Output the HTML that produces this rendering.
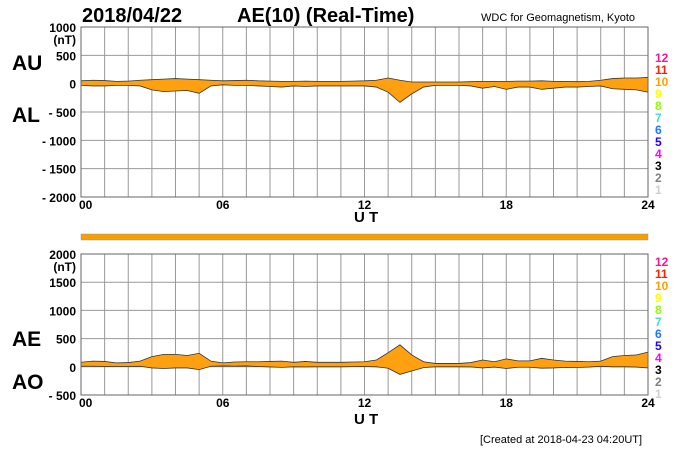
<!DOCTYPE html>
<html><head><meta charset="utf-8"><style>
html,body{margin:0;padding:0;background:#fff;}
svg{display:block;font-family:"Liberation Sans",Arial,sans-serif;}
</style></head><body>
<svg id="chart" width="700" height="450" viewBox="0 0 700 450">
<text x="82" y="22" font-size="20" font-weight="bold">2018/04/22</text>
<text x="237" y="22" font-size="20" font-weight="bold">AE(10) (Real-Time)</text>
<text x="481" y="21" font-size="11">WDC for Geomagnetism, Kyoto</text>
<text x="12" y="70" font-size="21" font-weight="bold">AU</text>
<text x="12" y="122" font-size="21" font-weight="bold">AL</text>
<text x="12" y="346" font-size="21" font-weight="bold">AE</text>
<text x="12" y="389" font-size="21" font-weight="bold">AO</text>
<text x="354" y="222" font-size="15" font-weight="bold">U T</text>
<text x="354" y="424" font-size="15" font-weight="bold">U T</text>
<text x="480" y="443" font-size="11">[Created at 2018-04-23 04:20UT]</text>
<rect x="81" y="234" width="567" height="6" fill="#f5a000" stroke="#999" stroke-width="0.5"/>
<g id="top"></g><g id="bot"></g><g id="legends"></g>
</svg>
<script>
const hours = [0,0.5,1,1.5,2,2.5,3,3.5,4,4.5,5,5.5,6,6.5,7,7.5,8,8.5,9,9.5,10,10.5,11,11.5,12,12.5,13,13.5,14,14.5,15,15.5,16,16.5,17,17.5,18,18.5,19,19.5,20,20.5,21,21.5,22,22.5,23,23.5,24];
const auValues = [50,60,55,40,45,60,70,80,90,80,70,60,50,55,60,50,45,40,40,45,40,40,40,45,50,60,100,60,30,30,30,30,30,35,40,40,40,45,45,50,40,40,35,40,60,90,100,100,110];
const alValues = [-30,-40,-40,-30,-30,-40,-110,-140,-130,-120,-170,-40,-20,-30,-30,-40,-50,-60,-40,-50,-40,-40,-40,-40,-40,-60,-150,-330,-180,-60,-30,-30,-30,-40,-80,-50,-100,-60,-60,-100,-80,-60,-60,-50,-40,-90,-100,-110,-150];
const topTicks = [1000,500,0,-500,-1000,-1500,-2000];
const topTickLabels = ["1000","500","0","- 500","- 1000","- 1500","- 2000"];
const botTicks = [2000,1500,1000,500,0,-500];
const botTickLabels = ["2000","1500","1000","500","0","- 500"];
const xTicks = [0,6,12,18,24];
const xTickLabels = ["00","06","12","18","24"];
const legendNums = ["12","11","10","9","8","7","6","5","4","3","2","1"];
const legendColors = ["#ff1493","#ff2000","#ffa000","#ffff00","#90ff00","#40e0d0","#1e78ff","#2000ff","#ff00ff","#000000","#808080","#d0d0d0"];

const NS="http://www.w3.org/2000/svg";
const X0=81,X1=648;
const xs=h=>X0+(X1-X0)*h/24;
function mk(p,tag,attrs){const e=document.createElementNS(NS,tag);for(const k in attrs)e.setAttribute(k,attrs[k]);p.appendChild(e);return e;}

function panel(g,top,bottom,vmax,vmin,ticks,labels,upper,lower,name){
  const ys=v=>top+(bottom-top)*(vmax-v)/(vmax-vmin);
  for(let h=1;h<24;h++){const l=mk(g,'line',{x1:xs(h),x2:xs(h),y1:top,y2:bottom,stroke:'#999','stroke-width':1});
    
    }
  ticks.forEach((t,i)=>{
    const l=mk(g,'line',{x1:X0,x2:X1,y1:ys(t),y2:ys(t),stroke:'#999','stroke-width':1});
    
    
    const tx=mk(g,'text',{x:76,y:ys(t)+5,'font-size':12,'font-weight':'bold','text-anchor':'end'});
    tx.textContent=labels[i];
    
    
  });
  const u=mk(g,'text',{x:76,y:ys(ticks[0])+17,'font-size':12,'font-weight':'bold','text-anchor':'end'});
  u.textContent='(nT)';
  
  
  let d='M'+hours.map((h,i)=>xs(h)+','+ys(upper[i])).join('L');
  for(let i=hours.length-1;i>=0;i--)d+='L'+xs(hours[i])+','+ys(lower[i]);
  const a=mk(g,'path',{d:d+'Z',fill:'#ffa010',stroke:'#333','stroke-width':0.8});
  
  
  const r=mk(g,'rect',{x:X0,y:top,width:X1-X0,height:bottom-top,fill:'none',stroke:'#666','stroke-width':1});
  
  
  xTicks.forEach((t,i)=>{const tx=mk(g,'text',{x:xs(t),y:bottom+12,'font-size':12,'font-weight':'bold','text-anchor':i==0?'start':'middle'});
    if(i==0)tx.setAttribute('x',X0-2);
    tx.textContent=xTickLabels[i];
    
    });
}
const aeValues=auValues.map((v,i)=>v-alValues[i]);
const aoValues=auValues.map((v,i)=>(v+alValues[i])/2);
panel(document.getElementById('top'),27,197,1000,-2000,topTicks,topTickLabels,auValues,alValues,'au-al-area');
panel(document.getElementById('bot'),254,395,2000,-500,botTicks,botTickLabels,aeValues,aoValues,'ae-ao-area');
const lg=document.getElementById('legends');
[62,266].forEach(y0=>legendNums.forEach((n,i)=>{
  const t=mk(lg,'text',{x:655,y:y0+i*12,'font-size':12,'font-weight':'bold',fill:legendColors[i]});
  t.textContent=n;
  
  
}));
</script>
</body></html>
